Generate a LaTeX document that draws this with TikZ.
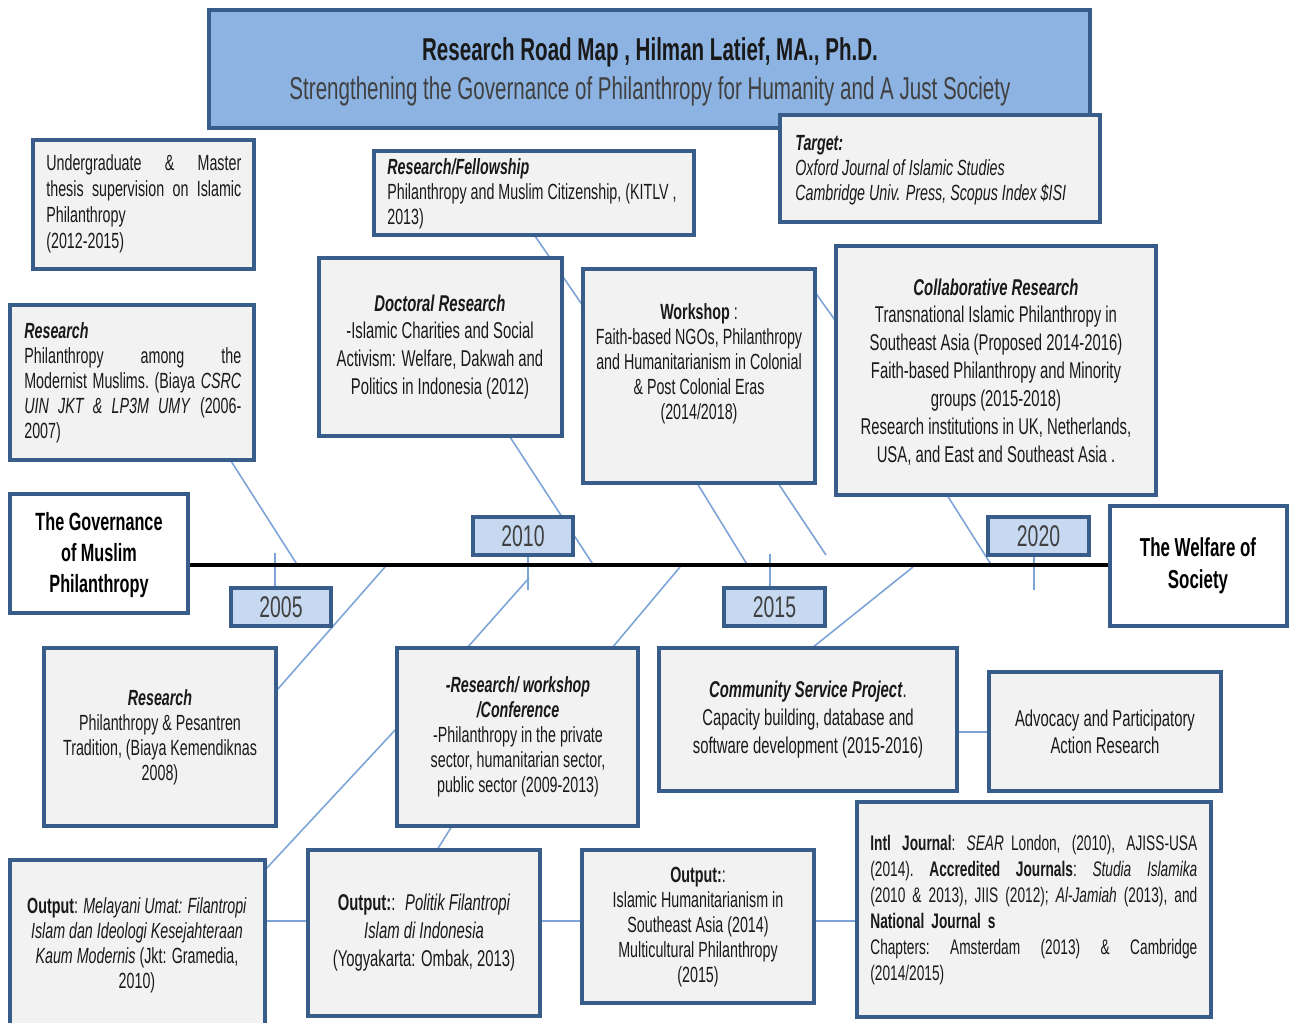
\documentclass[tikz,border=0pt]{standalone}
\usepackage{fontspec}
\setmainfont{Liberation Sans}[FakeStretch=0.65]
\usetikzlibrary{calc}
\definecolor{bord}{RGB}{56,93,138}
\definecolor{boxf}{RGB}{242,242,242}
\definecolor{titf}{RGB}{141,179,226}
\definecolor{yrf}{RGB}{198,217,241}
\definecolor{conn}{RGB}{124,164,214}
\definecolor{txt}{RGB}{25,25,25}
\definecolor{subc}{RGB}{64,64,64}
\pgfdeclarelayer{bg}
\pgfsetlayers{bg,main}
\begin{document}
\begin{tikzpicture}[x=0.02cm,y=-0.02cm,
  bx/.style={draw=bord, line width=2pt, fill=boxf, rectangle, inner sep=0pt, outer sep=0pt},
  wbx/.style={bx, fill=white},
  ybx/.style={bx, fill=yrf, line width=2.2pt},
  sz/.style 2 args={minimum width=#1*0.02cm, minimum height=#2*0.02cm},
  tx/.style={inner sep=0pt, text=txt, align=center},
  fa/.style={font=\fontsize{12.5}{14.2}\selectfont},
  fb/.style={font=\fontsize{12.5}{14.7}\selectfont},
  fc/.style={font=\fontsize{13}{15.9}\selectfont},
  yr/.style={inner sep=0pt, text=subc, font=\fontsize{17}{20}\selectfont},
  cn/.style={draw=conn, line width=0.9pt},
  timeline/.style={draw=black, line width=2.8pt},
]
\useasboundingbox (0,0) rectangle (1296,1023);

% ---- boxes ----
\node[bx, fill=titf, line width=1.8pt, sz={881}{118}] (title) at (649.5,69) {};
\node[bx, sz={320}{107}] (tg) at (940,168.5) {};
\node[bx, sz={221}{129}] (ug) at (143.5,204.5) {};
\node[bx, sz={320}{84}] (rf) at (534,193) {};
\node[bx, sz={244}{155}] (rs1) at (132,382.5) {};
\node[bx, sz={243}{178}] (doc) at (440.5,347) {};
\node[bx, sz={232}{214}] (ws) at (699,376) {};
\node[bx, sz={320}{249}] (col) at (996,370.5) {};
\node[wbx, sz={178}{119}] (gov) at (99,553.5) {};
\node[wbx, sz={177}{120}] (wel) at (1198.5,566) {};
\node[ybx, sz={100}{38}] (y05) at (281,607) {};
\node[ybx, sz={100}{38}] (y10) at (523,536) {};
\node[ybx, sz={101}{38}] (y15) at (774.5,607) {};
\node[ybx, sz={101}{38}] (y20) at (1038.5,536) {};
\node[bx, sz={232}{178}] (rs2) at (160,737) {};
\node[bx, sz={241}{178}] (rwc) at (517.5,737) {};
\node[bx, sz={298}{143}] (csp) at (808,719.5) {};
\node[bx, sz={232}{119}] (adv) at (1105,731.5) {};
\node[bx, sz={255}{180}] (om) at (137.5,950) {};
\node[bx, sz={232}{166}] (op) at (424,933) {};
\node[bx, sz={232}{153}] (oi) at (698,926.5) {};
\node[bx, sz={354}{215}] (ij) at (1034,909.5) {};

% ---- texts ----
\node[tx, font=\fontsize{18}{20}\selectfont\bfseries] (ttl1) at (650,52) {Research Road Map , Hilman Latief, MA., Ph.D.};
\node[tx, text=subc, font=\fontsize{18}{20}\selectfont] (ttl2) at (650,91) {Strengthening the Governance of Philanthropy for Humanity and A Just Society};

\node[tx, fb, anchor=west, text width=3.9cm, align=left] (ugt) at (46,204)
  {Undergraduate\hfill\&\hfill Master\\ thesis\hfill supervision\hfill on\hfill Islamic\\ Philanthropy\\ (2012-2015)};
\node[tx, fa, anchor=west, align=left] (rft) at (387,194)
  {\textbf{\textit{Research/Fellowship}}\\ Philanthropy and Muslim Citizenship, (KITLV ,\\ 2013)};
\node[tx, fa, anchor=west, align=left] (tgt) at (795,170)
  {\textbf{\textit{Target:}}\\ \textit{Oxford Journal of Islamic Studies}\\ \textit{Cambridge Univ. Press, Scopus Index \$ISI}};
\node[tx, fa, anchor=west, text width=4.34cm, align=left] (rs1t) at (24,383)
  {\textbf{\textit{Research}}\\ Philanthropy\hfill among\hfill the\\ Modernist\hfill Muslims.\hfill (Biaya\hfill \textit{CSRC}\\ \textit{UIN\hfill JKT\hfill \&\hfill LP3M\hfill UMY}\hfill (2006-\\ 2007)};
\node[tx, fc] (doct) at (440,347)
  {\textbf{\textit{Doctoral Research}}\\ -Islamic Charities and Social\\ Activism: Welfare, Dakwah and\\ Politics in Indonesia (2012)};
\node[tx, fa] (wst) at (699,364)
  {\textbf{Workshop} :\\ Faith-based NGOs, Philanthropy\\ and Humanitarianism in Colonial\\ \& Post Colonial Eras\\ (2014/2018)};
\node[tx, fc] (colt) at (996,372)
  {\textbf{\textit{Collaborative Research}}\\ Transnational Islamic Philanthropy in\\ Southeast Asia (Proposed 2014-2016)\\ Faith-based Philanthropy and Minority\\ groups (2015-2018)\\ Research institutions in UK, Netherlands,\\ USA, and East and Southeast Asia .};
\node[tx, font=\fontsize{14.2}{17.6}\selectfont\bfseries, text=black] (govt) at (99,555)
  {The Governance\\ of Muslim\\ Philanthropy};
\node[tx, font=\fontsize{14.8}{18}\selectfont\bfseries, text=black] (welt) at (1198,566)
  {The Welfare of\\ Society};
\node[yr] (y05t) at (y05) {2005};
\node[yr] (y10t) at (y10) {2010};
\node[yr] (y15t) at (y15) {2015};
\node[yr] (y20t) at (y20) {2020};
\node[tx, fa] (rs2t) at (160,737)
  {\textbf{\textit{Research}}\\ Philanthropy \& Pesantren\\ Tradition, (Biaya Kemendiknas\\ 2008)};
\node[tx, fa] (rwct) at (518,737)
  {\textbf{\textit{-Research/ workshop}}\\ \textbf{\textit{/Conference}}\\ -Philanthropy in the private\\ sector, humanitarian sector,\\ public sector (2009-2013)};
\node[tx, fc] (cspt) at (808,720)
  {\textbf{\textit{Community Service Project}}.\\ Capacity building, database and\\ software development (2015-2016)};
\node[tx, font=\fontsize{13}{15.3}\selectfont] (advt) at (1105,732)
  {Advocacy and Participatory\\ Action Research};
\node[tx, fa] (omt) at (137,945)
  {\textbf{Output}: \textit{Melayani Umat: Filantropi}\\ \textit{Islam dan Ideologi Kesejahteraan}\\ \textit{Kaum Modernis} (Jkt: Gramedia,\\ 2010)};
\node[tx, fc] (opt) at (424,933)
  {\textbf{Output:}: \ \textit{Politik Filantropi}\\ \textit{Islam di Indonesia}\\ (Yogyakarta: Ombak, 2013)};
\node[tx, fa] (oit) at (698,927)
  {\textbf{Output:}:\\ Islamic Humanitarianism in\\ Southeast Asia (2014)\\ Multicultural Philanthropy\\ (2015)};
\node[tx, font=\fontsize{12}{14.7}\selectfont, anchor=west, text width=6.54cm, align=left] (ijt) at (870,910)
  {\textbf{Intl}\hfill \textbf{Journal}:\hfill \textit{SEAR} London,\hfill (2010),\hfill AJISS-USA\\
   (2014).\hfill \textbf{Accredited}\hfill \textbf{Journals}:\hfill \textit{Studia}\hfill \textit{Islamika}\\
   (2010\hfill \&\hfill 2013),\hfill JIIS\hfill (2012);\hfill \textit{Al-Jamiah}\hfill (2013),\hfill and\\
   \textbf{National Journal s}\\
   Chapters:\hfill Amsterdam\hfill (2013)\hfill \&\hfill Cambridge\\
   (2014/2015)};

% ---- connectors ----
\begin{pgfonlayer}{bg}
  \coordinate (tly) at (0,565);
  \coordinate (h1) at (0,921);
  \coordinate (h2) at (0,732);
  \coordinate (a1) at (231,461);  \coordinate (b1) at (298,566);
  \coordinate (a3) at (385,567);  \coordinate (b3) at (277,690);
  \coordinate (a4) at (510,437);  \coordinate (b4) at (594,566);
  \coordinate (a5) at (535,236);  \coordinate (b5) at (583,306);
  \coordinate (a7) at (529,578);  \coordinate (b7) at (467,648);
  \coordinate (a8) at (680,567);  \coordinate (b8) at (612,648);
  \coordinate (a9) at (452,826);  \coordinate (b9) at (437,850);
  \coordinate (a10) at (265,870); \coordinate (b10) at (397,728);
  \coordinate (a15) at (697,483); \coordinate (b15) at (748,566);
  \coordinate (a16) at (778,483); \coordinate (b16) at (826,555);
  \coordinate (a17) at (812,288); \coordinate (b17) at (840,327);
  \coordinate (a19) at (913,567); \coordinate (b19) at (812,648);
  \coordinate (a20) at (947,495); \coordinate (b20) at (992,566);
  \coordinate (k05) at (275,553);
  \coordinate (k10) at (528,590);
  \coordinate (k15) at (770,554);
  \coordinate (k20) at (1034,590);
  \draw[cn] (a1) -- (b1);
  \draw[cn] (a3) -- (b3);
  \draw[cn] (a4) -- (b4);
  \draw[cn] (a5) -- (b5);
  \draw[cn] (a7) -- (b7);
  \draw[cn] (a8) -- (b8);
  \draw[cn] (a9) -- (b9);
  \draw[cn] (a10) -- (b10);
  \draw[cn] (a15) -- (b15);
  \draw[cn] (a16) -- (b16);
  \draw[cn] (a17) -- (b17);
  \draw[cn] (a19) -- (b19);
  \draw[cn] (a20) -- (b20);
  \draw[cn] (k05) -- (k05 |- y05.north);
  \draw[cn] (y10.south -| k10) -- (k10);
  \draw[cn] (k15) -- (k15 |- y15.north);
  \draw[cn] (y20.south -| k20) -- (k20);
  \draw[cn] (om.east |- h1) -- (op.west |- h1);
  \draw[cn] (op.east |- h1) -- (oi.west |- h1);
  \draw[cn] (oi.east |- h1) -- (ij.west |- h1);
  \draw[cn] (csp.east |- h2) -- (adv.west |- h2);
  \draw[timeline] (gov.east |- tly) -- (wel.west |- tly);
\end{pgfonlayer}
\end{tikzpicture}
\end{document}
